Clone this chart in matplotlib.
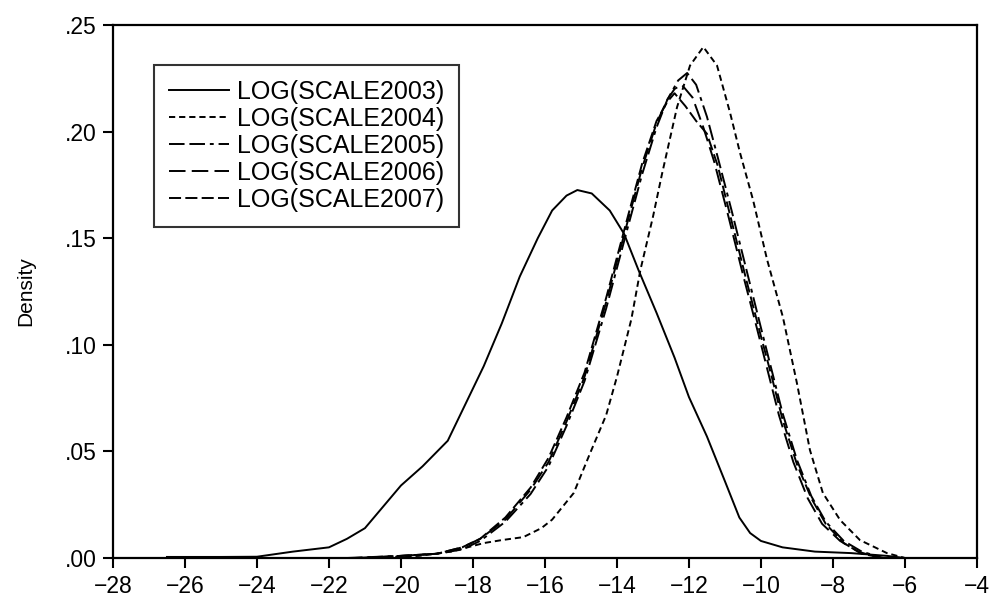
import matplotlib
matplotlib.use("Agg")
import matplotlib.pyplot as plt
from matplotlib.ticker import FuncFormatter

plt.rcParams["font.family"] = ["Liberation Sans", "DejaVu Sans"]

# kernel density curves
x2003 = [-26.5, -25.0, -24.0, -23.0, -22.0, -21.5, -21.0, -20.5, -20.0, -19.4, -18.7, -18.3,
         -17.7, -17.2, -16.7, -16.2, -15.8, -15.4, -15.1, -14.7, -14.2, -13.8, -13.4, -12.9,
         -12.4, -12.0, -11.5, -11.0, -10.6, -10.3, -10.0, -9.4, -8.5, -7.5, -6.5, -6.0]
y2003 = [0.0005, 0.0005, 0.0006, 0.003, 0.005, 0.009, 0.014, 0.024, 0.034, 0.043, 0.055, 0.069,
         0.090, 0.110, 0.132, 0.150, 0.163, 0.170, 0.1726, 0.171, 0.163, 0.152, 0.135, 0.115,
         0.094, 0.0755, 0.057, 0.036, 0.019, 0.0117, 0.008, 0.005, 0.003, 0.0023, 0.001, 0.0]

x2004 = [-21.0, -19.5, -18.6, -17.7, -17.2, -16.6, -16.1, -15.8, -15.2, -14.75, -14.3, -14.0,
         -13.6, -13.35, -13.0, -12.75, -12.33, -11.97, -11.6, -11.22, -10.86, -10.58, -10.22,
         -9.83, -9.39, -9.0, -8.64, -8.28, -7.8, -7.25, -6.5, -6.0]
y2004 = [0.0, 0.001, 0.003, 0.007, 0.0084, 0.0098, 0.014, 0.018, 0.0305, 0.049, 0.067, 0.085,
         0.112, 0.135, 0.160, 0.180, 0.2115, 0.231, 0.2397, 0.231, 0.209, 0.190, 0.168,
         0.140, 0.113, 0.082, 0.0507, 0.0305, 0.0178, 0.0084, 0.0023, 0.0]

x2005 = [-21.5, -20.0, -19.0, -18.3, -17.8, -17.1, -16.4, -15.9, -15.4, -14.9, -14.3, -13.7,
         -13.3, -12.9, -12.6, -12.3, -12.05, -11.8, -11.5, -11.2, -10.8, -10.4, -10.0, -9.7,
         -9.4, -9.0, -8.6, -8.2, -7.7, -7.2, -6.6]
y2005 = [0.0, 0.001, 0.002, 0.004, 0.008, 0.017, 0.030, 0.043, 0.062, 0.083, 0.117, 0.155,
         0.180, 0.202, 0.215, 0.224, 0.2275, 0.222, 0.207, 0.188, 0.162, 0.135, 0.108, 0.088,
         0.068, 0.046, 0.029, 0.017, 0.008, 0.003, 0.0]

x2006 = [-21.3, -20.0, -19.0, -18.3, -17.8, -17.1, -16.4, -15.9, -15.4, -14.9, -14.3, -13.7,
         -13.3, -12.9, -12.6, -12.4, -12.2, -11.9, -11.6, -11.3, -10.9, -10.5, -10.1, -9.8,
         -9.5, -9.1, -8.7, -8.3, -7.8, -7.3, -6.7]
y2006 = [0.0, 0.001, 0.002, 0.005, 0.009, 0.018, 0.032, 0.045, 0.064, 0.085, 0.120, 0.158,
         0.183, 0.204, 0.215, 0.220, 0.222, 0.216, 0.202, 0.186, 0.160, 0.133, 0.107, 0.087,
         0.067, 0.045, 0.028, 0.016, 0.008, 0.003, 0.0]

x2007 = [-21.0, -20.0, -19.0, -18.3, -17.8, -17.1, -16.4, -15.9, -15.4, -14.9, -14.3, -13.7,
         -13.3, -12.9, -12.6, -12.4, -12.1, -11.8, -11.5, -11.2, -10.8, -10.4, -10.0, -9.7,
         -9.4, -9.0, -8.6, -8.2, -7.7, -7.2, -6.6]
y2007 = [0.0, 0.001, 0.002, 0.005, 0.009, 0.019, 0.033, 0.047, 0.066, 0.087, 0.122, 0.160,
         0.185, 0.205, 0.214, 0.218, 0.212, 0.205, 0.199, 0.184, 0.157, 0.130, 0.104, 0.085,
         0.065, 0.044, 0.028, 0.016, 0.007, 0.002, 0.0]

labels = ["LOG(SCALE2003)", "LOG(SCALE2004)", "LOG(SCALE2005)",
          "LOG(SCALE2006)", "LOG(SCALE2007)"]
xticks = list(range(-28, -3, 2))
yticks = [0.0, 0.05, 0.10, 0.15, 0.20, 0.25]

series = [(x2003, y2003), (x2004, y2004), (x2005, y2005), (x2006, y2006), (x2007, y2007)]
styles = ["-", (0, (3.2, 2.0)), (0, (8, 2.5, 8, 2.5, 2, 2.5)), (0, (8.5, 3.2)), (0, (6.2, 2.2))]

fig = plt.figure(figsize=(9.9, 6.06), dpi=100)
ax = fig.add_axes([0.1141, 0.0792, 0.8727, 0.8795])

for (xs, ys), ls, lab in zip(series, styles, labels):
    ax.plot(xs, ys, color="black", linestyle=ls, linewidth=1.4, label=lab)

ax.set_xlim(-28, -4)
ax.set_ylim(0, 0.25)
ax.set_xticks(xticks)
ax.set_yticks(yticks)
ax.yaxis.set_major_formatter(FuncFormatter(lambda v, p: ("%.2f" % v)[1:]))
ax.tick_params(direction="out", length=7, width=1.5, labelsize=16.5, pad=5)
for s in ax.spines.values():
    s.set_linewidth(1.6)
ax.set_ylabel("Density", fontsize=15)
ax.yaxis.set_label_coords(-0.09, 0.5)

leg = ax.legend(loc="upper left", bbox_to_anchor=(0.048, 0.925), fontsize=18,
                frameon=True, fancybox=False, handlelength=2.4, handletextpad=0.3,
                labelspacing=0.12, borderpad=0.6, borderaxespad=0)
leg.get_frame().set_edgecolor("black")
leg.get_frame().set_linewidth(1.5)

fig.savefig("out.png", dpi=100, facecolor="white")
